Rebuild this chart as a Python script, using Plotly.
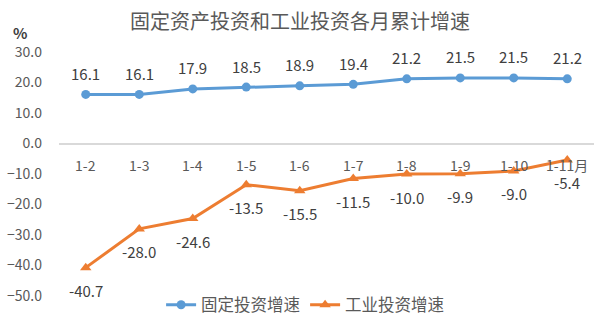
import plotly.graph_objects as go

months = ["1-2", "1-3", "1-4", "1-5", "1-6", "1-7", "1-8", "1-9", "1-10", "1-11"]
month_labels = ["1-2", "1-3", "1-4", "1-5", "1-6", "1-7", "1-8", "1-9", "1-10", "1-11月"]
fixed_invest = [16.1, 16.1, 17.9, 18.5, 18.9, 19.4, 21.2, 21.5, 21.5, 21.2]
industry_invest = [-40.7, -28.0, -24.6, -13.5, -15.5, -11.5, -10.0, -9.9, -9.0, -5.4]
y_ticks = [30, 20, 10, 0, -10, -20, -30, -40, -50]

BLUE = "#5B9BD5"
ORANGE = "#ED7D31"
GRAY = "#595959"
DARK = "#404040"
FONT = "Noto Sans CJK SC"

fig = go.Figure()
fig.add_trace(go.Scatter(
    x=months, y=fixed_invest, name="固定投资增速", mode="lines+markers",
    line=dict(color=BLUE, width=3), marker=dict(symbol="circle", size=9, color=BLUE),
))
fig.add_trace(go.Scatter(
    x=months, y=industry_invest, name="工业投资增速", mode="lines+markers",
    line=dict(color=ORANGE, width=3), marker=dict(symbol="triangle-up", size=10, color=ORANGE),
))

annotations = []
for m, v in zip(months, fixed_invest):
    annotations.append(dict(x=m, y=v, text=f"{v:.1f}", showarrow=False, yshift=21,
                            font=dict(family=FONT, size=15, color=DARK)))
for m, v in zip(months, industry_invest):
    annotations.append(dict(x=m, y=v, text=f"{v:.1f}", showarrow=False, yshift=-23,
                            font=dict(family=FONT, size=15, color=DARK)))
# category labels sit next to the zero line
for m, lab in zip(months, month_labels):
    annotations.append(dict(x=m, y=0, text=lab, showarrow=False, yshift=-21,
                            font=dict(family=FONT, size=14, color=GRAY)))
# unit label above the value axis
annotations.append(dict(x=-0.073, y=1.08, xref="paper", yref="paper", text="<b>%</b>",
                        xanchor="center", yanchor="middle",
                        showarrow=False, font=dict(family=FONT, size=15, color=DARK)))

fig.update_layout(
    width=600, height=325,
    margin=dict(l=59, r=6, t=52, b=29, autoexpand=False),
    paper_bgcolor="white", plot_bgcolor="white",
    title=dict(text="固定资产投资和工业投资各月累计增速", x=0.5, xref="container",
               y=1 - 22 / 325, yanchor="middle",
               font=dict(family=FONT, size=20, color=GRAY)),
    font=dict(family=FONT, color=GRAY),
    showlegend=True,
    legend=dict(orientation="h", x=0.46, xanchor="center",
                y=-0.037, yanchor="middle", font=dict(family=FONT, size=16.5, color=GRAY),
                bgcolor="rgba(0,0,0,0)"),
    annotations=annotations,
)
fig.update_xaxes(type="category", range=[-0.5, 9.5], showticklabels=False,
                 showgrid=False, zeroline=False, showline=False)
fig.update_yaxes(range=[-50, 30], tickvals=y_ticks, tickformat=".1f", showgrid=False,
                 zeroline=True, zerolinecolor="#D9D9D9", zerolinewidth=1.5,
                 showline=False, ticklabelstandoff=16,
                 tickfont=dict(family=FONT, size=14, color=GRAY))

fig.write_html("out.html")
